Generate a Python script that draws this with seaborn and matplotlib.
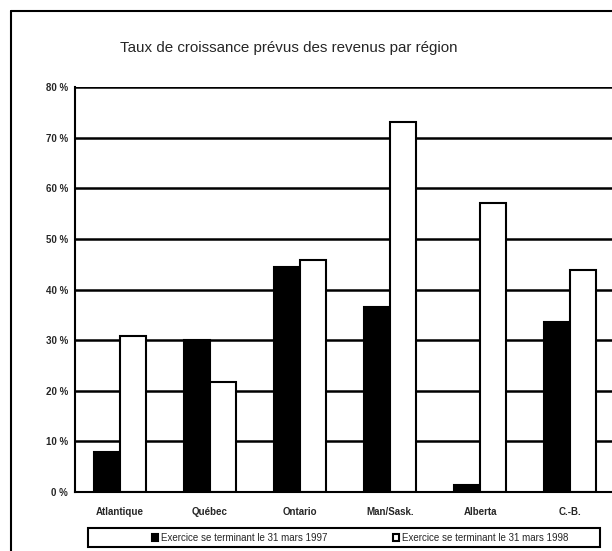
import matplotlib
matplotlib.use("Agg")
import matplotlib.pyplot as plt
from matplotlib.lines import Line2D
from matplotlib.patches import Rectangle
import seaborn as sns
import pandas as pd

regions = ["Atlantique", "Québec", "Ontario", "Man/Sask.", "Alberta", "C.-B."]
series_names = ["Exercice se terminant le 31 mars 1997",
                "Exercice se terminant le 31 mars 1998"]
values_1997 = [8.0, 30.0, 44.5, 36.5, 1.4, 33.6]
values_1998 = [30.9, 21.8, 45.8, 73.0, 57.1, 43.8]
yticks = [0, 10, 20, 30, 40, 50, 60, 70, 80]
ytick_labels = ["0 %", "10 %", "20 %", "30 %", "40 %", "50 %", "60 %", "70 %", "80 %"]
title = "Taux de croissance prévus des revenus par région"

df = pd.DataFrame({
    "Région": regions * 2,
    "Série": [series_names[0]] * len(regions) + [series_names[1]] * len(regions),
    "Taux": values_1997 + values_1998,
})

sns.set_style("white")
plt.rcParams["font.family"] = ["Liberation Sans", "DejaVu Sans"]

fig = plt.figure(figsize=(6.12, 5.51), dpi=100)
ax = fig.add_axes([75 / 612, (551 - 492) / 551, 540 / 612, 405 / 551])

sns.barplot(data=df, x="Région", y="Taux", hue="Série",
            palette=["black", "white"], edgecolor="black", linewidth=1.5,
            width=0.58, gap=0, saturation=1, ax=ax, legend=True)

ax.set_xlim(-0.5, 5.5)
ax.set_ylim(0, 80)
ax.set_yticks(yticks)
ax.set_yticklabels(ytick_labels, fontsize=7, fontweight="bold")
ax.set_xticks(range(len(regions)))
ax.set_xticklabels(regions, fontsize=7, fontweight="bold")
ax.tick_params(axis="x", which="major", length=0, pad=11)
ax.set_xticks([i + 0.5 for i in range(len(regions) - 1)], minor=True)
ax.tick_params(axis="x", which="minor", length=3, width=1, color="black")
ax.tick_params(axis="y", length=3, width=1, color="black", pad=2)
ax.set_xlabel("")
ax.set_ylabel("")
ax.grid(axis="y", color="black", linewidth=1.8)
ax.set_axisbelow(True)
for side in ["top", "right"]:
    ax.spines[side].set_visible(False)
for side in ["left", "bottom"]:
    ax.spines[side].set_color("black")
    ax.spines[side].set_linewidth(1.5)

handles, labels = ax.get_legend_handles_labels()
ax.legend_.remove()
fig.add_artist(Rectangle((88 / 612, (551 - 547) / 551), 512 / 612, 19 / 551,
                         transform=fig.transFigure, facecolor="white",
                         edgecolor="black", linewidth=1.5))
leg = fig.legend(handles, labels, ncol=2, loc="center",
                 bbox_to_anchor=(360 / 612, 1 - 538 / 551),
                 fontsize=7, frameon=False, handlelength=0.6, handleheight=0.8,
                 handletextpad=0.3, columnspacing=6.8, borderaxespad=0)

fig.text(289 / 612, 1 - 48 / 551, title, ha="center", va="center", fontsize=10.9)
fig.add_artist(Line2D([11 / 612, 1.0], [1 - 11 / 551, 1 - 11 / 551], color="black", linewidth=1.5))
fig.add_artist(Line2D([11 / 612, 11 / 612], [0, 1 - 11 / 551], color="black", linewidth=1.5))

fig.savefig("out.png", dpi=100)
